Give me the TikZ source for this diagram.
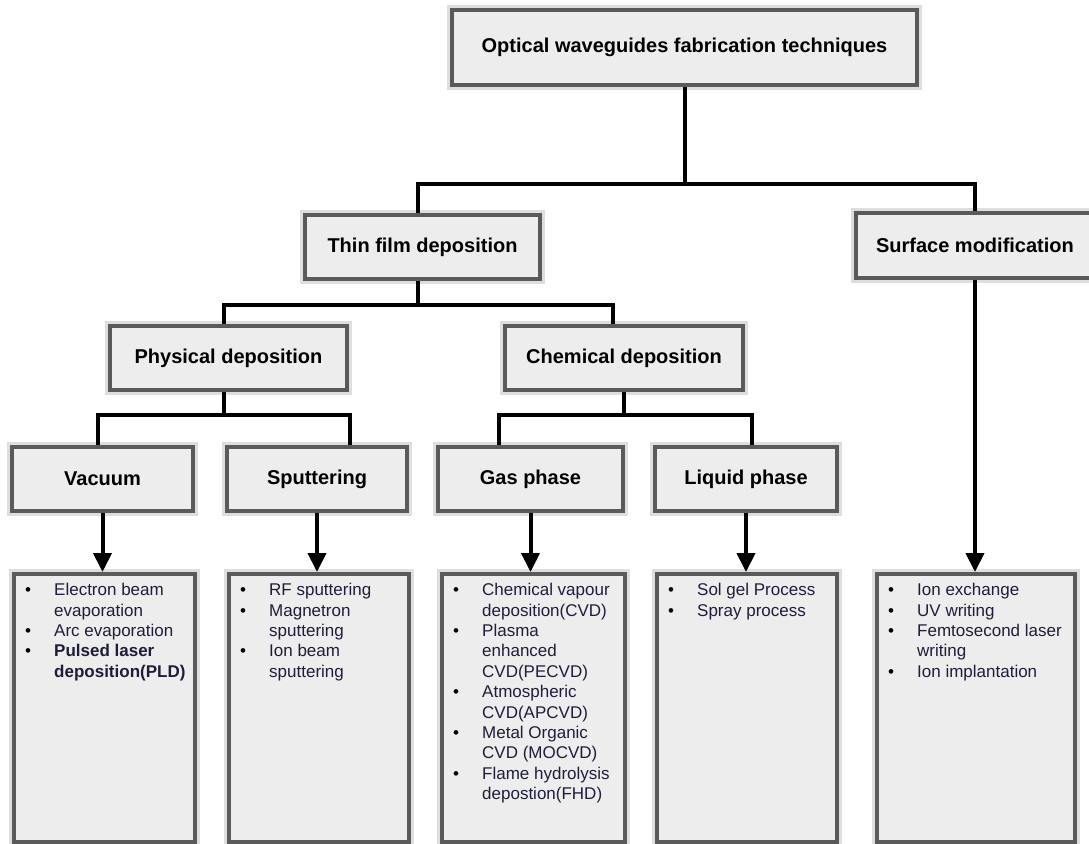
\documentclass[tikz,border=0pt]{standalone}
\usepackage{fontspec}
\setmainfont{Liberation Sans}
\usepackage{xcolor}
\usetikzlibrary{positioning, calc, arrows.meta}

\definecolor{boxfill}{HTML}{EDEDED}
\definecolor{boxline}{HTML}{5A5A5A}
\definecolor{halo}{HTML}{DEDEDE}
\definecolor{itemtext}{HTML}{1E1E3C}

\newcommand{\bitem}[1]{\hangindent=20pt\hangafter=1\noindent\hspace*{5.5pt}\makebox[14.5pt][l]{\textcolor{black}{\textbullet}}#1\par}
\newcommand{\itemlist}[3]{\parbox[c][#2][t]{#1}{\vspace*{4.6pt}\raggedright\fontsize{8.5pt}{10.2pt}\selectfont\color{itemtext}#3}}

\tikzset{
  catbox/.style={draw=boxline, fill=boxfill, line width=2.2pt, preaction={draw=halo, line width=5pt}, inner sep=0pt, font=\bfseries\fontsize{10pt}{12pt}\selectfont},
  listbox/.style={catbox, anchor=north west, font=\normalfont},
  link/.style={line width=2pt, black},
  feed/.style={link, -{Triangle[length=9.5pt,width=9pt]}}
}

\begin{document}
\begin{tikzpicture}[x=0.5pt, y=-0.5pt]
  \useasboundingbox (0,0) rectangle (1089,843);

  % headings
  \node[catbox, minimum width=232.5pt, minimum height=37.5pt] (optical) at (684.5,47.5) {Optical waveguides fabrication techniques};
  \node[catbox, minimum width=117.5pt, minimum height=32pt] (thin) at (422.5,247) {Thin film deposition};
  \node[catbox, minimum width=119pt, minimum height=32.5pt] (surface) at (975,245.5) {Surface modification};
  \node[catbox, minimum width=118.5pt, minimum height=32pt] (physical) at (228.5,358) {Physical deposition};
  \node[catbox, minimum width=119pt, minimum height=32pt] (chemical) at (624,358) {Chemical deposition};
  \node[catbox, minimum width=90.5pt, minimum height=32pt] (vacuum) at (102.5,479) {Vacuum};
  \node[catbox, minimum width=90pt, minimum height=32pt] (sputter) at (317,479) {Sputtering};
  \node[catbox, minimum width=92.5pt, minimum height=32pt] (gas) at (530.5,479) {Gas phase};
  \node[catbox, minimum width=91pt, minimum height=32pt] (liquid) at (746,479) {Liquid phase};

  % lists
  \node[listbox, minimum width=90.5pt, minimum height=134pt] (vaclist) at (12,572)
    {\itemlist{90.5pt}{134pt}{\bitem{Electron beam\newline evaporation}\bitem{Arc evaporation}\bitem{\textbf{Pulsed laser\newline deposition(PLD)}}}};
  \node[listbox, minimum width=90pt, minimum height=134pt] (sputlist) at (227,572)
    {\itemlist{90pt}{134pt}{\bitem{RF sputtering}\bitem{Magnetron\newline sputtering}\bitem{Ion beam\newline sputtering}}};
  \node[listbox, minimum width=91.5pt, minimum height=134pt] (gaslist) at (440,572)
    {\itemlist{91.5pt}{134pt}{\bitem{Chemical vapour\newline deposition(CVD)}\bitem{Plasma\newline enhanced\newline CVD(PECVD)}\bitem{Atmospheric\newline CVD(APCVD)}\bitem{Metal Organic\newline CVD (MOCVD)}\bitem{Flame hydrolysis\newline depostion(FHD)}}};
  \node[listbox, minimum width=90pt, minimum height=134pt] (liqlist) at (655,572)
    {\itemlist{90pt}{134pt}{\bitem{Sol gel Process}\bitem{Spray process}}};
  \node[listbox, minimum width=99pt, minimum height=134pt] (surflist) at (875,572)
    {\itemlist{99pt}{134pt}{\bitem{Ion exchange}\bitem{UV writing}\bitem{Femtosecond laser\newline writing}\bitem{Ion implantation}}};

  % tree
  \draw[link] (optical.south) -- ++(0,97) -| ([xshift=-2.25pt]thin.north);
  \draw[link] (optical.south) -- ++(0,97) -| (surface.north);
  \draw[link] ([xshift=-2.25pt]thin.south) -- ++(0,24) -| ([xshift=-2.25pt]physical.north);
  \draw[link] ([xshift=-2.25pt]thin.south) -- ++(0,24) -| ([xshift=-5.5pt]chemical.north);
  \draw[link] ([xshift=-2.25pt]physical.south) -- ++(0,23) -| ([xshift=-2.25pt]vacuum.north);
  \draw[link] ([xshift=-2.25pt]physical.south) -- ++(0,23) -| ([xshift=16.5pt]sputter.north);
  \draw[link] (chemical.south) -- ++(0,23) -| ([xshift=-15.75pt]gas.north);
  \draw[link] (chemical.south) -- ++(0,23) -| ([xshift=3pt]liquid.north);

  % arrows to lists
  \draw[feed] (vacuum.south) -- (vacuum.south |- vaclist.north);
  \draw[feed] (sputter.south) -- (sputter.south |- sputlist.north);
  \draw[feed] (gas.south) -- (gas.south |- gaslist.north);
  \draw[feed] (liquid.south) -- (liquid.south |- liqlist.north);
  \draw[feed] (surface.south) -- (surface.south |- surflist.north);
\end{tikzpicture}
\end{document}
